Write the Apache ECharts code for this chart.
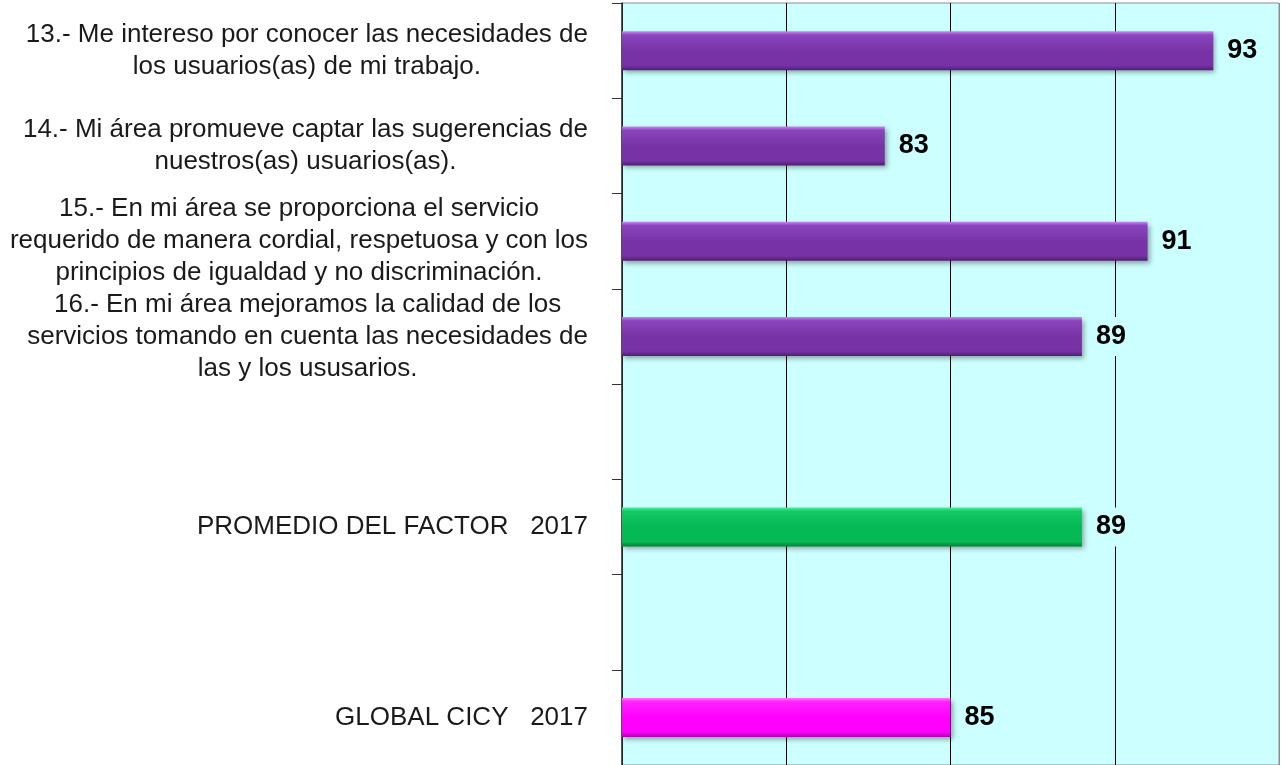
<!DOCTYPE html>
<html>
<head>
<meta charset="utf-8">
<script src="https://cdn.jsdelivr.net/npm/echarts@6/dist/echarts.min.js"></script>
<style>
  html, body { margin: 0; padding: 0; background: #fff; }
  #main { width: 1281px; height: 765px; }
</style>
</head>
<body>
<div id="main"></div>
<script>
// categorias (vacias = huecos entre grupos)
var categories = [
  '13.- Me intereso por conocer las necesidades de\nlos usuarios(as) de mi trabajo.',
  '14.- Mi área promueve captar las sugerencias de\nnuestros(as) usuarios(as).',
  '15.- En mi área se proporciona el servicio\nrequerido de manera cordial, respetuosa y con los\nprincipios de igualdad y no discriminación.',
  '16.- En mi área mejoramos la calidad de los\nservicios tomando en cuenta las necesidades de\nlas y los ususarios.',
  '',
  'PROMEDIO DEL FACTOR   2017',
  '',
  'GLOBAL CICY   2017'
];
var values = [93, 83, 91, 89, '-', 89, '-', 85];
var kinds = ['item', 'item', 'item', 'item', '', 'factor', '', 'global'];
var axisMin = 75, axisMax = 95, axisStep = 5;

// degradados tipo bisel
function bevel(top, mid, main, bottom) {
  return new echarts.graphic.LinearGradient(0, 0, 0, 1, [
    {offset: 0, color: top},
    {offset: 0.1, color: mid},
    {offset: 0.5, color: main},
    {offset: 0.88, color: main},
    {offset: 1, color: bottom}
  ]);
}
var colors = {
  item: bevel('#C98BF2', '#8A45BE', '#7733A6', '#4F1E74'),
  factor: bevel('#4FF0A0', '#14C865', '#05BA55', '#03803A'),
  global: bevel('#FF7BFF', '#FF22FF', '#FF00FF', '#A800A8')
};

var barData = values.map(function (v, i) {
  if (v === '-') return '-';
  return {value: v, itemStyle: {color: colors[kinds[i]]}};
});

var chart = echarts.init(document.getElementById('main'));
chart.setOption({
  animation: false,
  grid: {
    left: 622, right: 2, top: 3, bottom: -2,
    show: true,
    backgroundColor: '#CCFFFF',
    borderColor: '#8C8C8C',
    borderWidth: 1
  },
  xAxis: {
    type: 'value',
    min: axisMin, max: axisMax, interval: axisStep,
    axisLabel: {show: false},
    axisLine: {show: false},
    axisTick: {show: false},
    splitLine: {
      show: true,
      lineStyle: {color: ['#000', '#000', '#000', '#000', '#8C8C8C'], width: 1}
    }
  },
  yAxis: {
    type: 'category',
    inverse: true,
    data: categories,
    axisLine: {show: true, lineStyle: {color: '#333', width: 1.5}},
    axisTick: {show: true, length: 10, interval: 0, lineStyle: {color: '#333'}},
    axisLabel: {
      interval: 0,
      margin: 34,
      formatter: function (s) {
        if (!s) return '';
        return s.split('\n').map(function (l) { return '{c|' + l + '}'; }).join('\n');
      },
      rich: {
        c: {
          align: 'center',
          fontFamily: '"Liberation Sans", Arial, sans-serif',
          fontSize: 26,
          lineHeight: 32,
          color: '#1a1a1a'
        }
      }
    }
  },
  series: [{
    type: 'bar',
    data: barData,
    barWidth: 39,
    itemStyle: {
      shadowColor: 'rgba(0,0,0,0.35)',
      shadowBlur: 5,
      shadowOffsetX: 2,
      shadowOffsetY: 3
    },
    label: {
      show: true,
      position: 'right',
      distance: 11,
      fontFamily: '"Liberation Sans", Arial, sans-serif',
      fontWeight: 'bold',
      fontSize: 27,
      color: '#000',
      backgroundColor: '#CCFFFF',
      padding: [6, 3]
    }
  }]
});
</script>
</body>
</html>
